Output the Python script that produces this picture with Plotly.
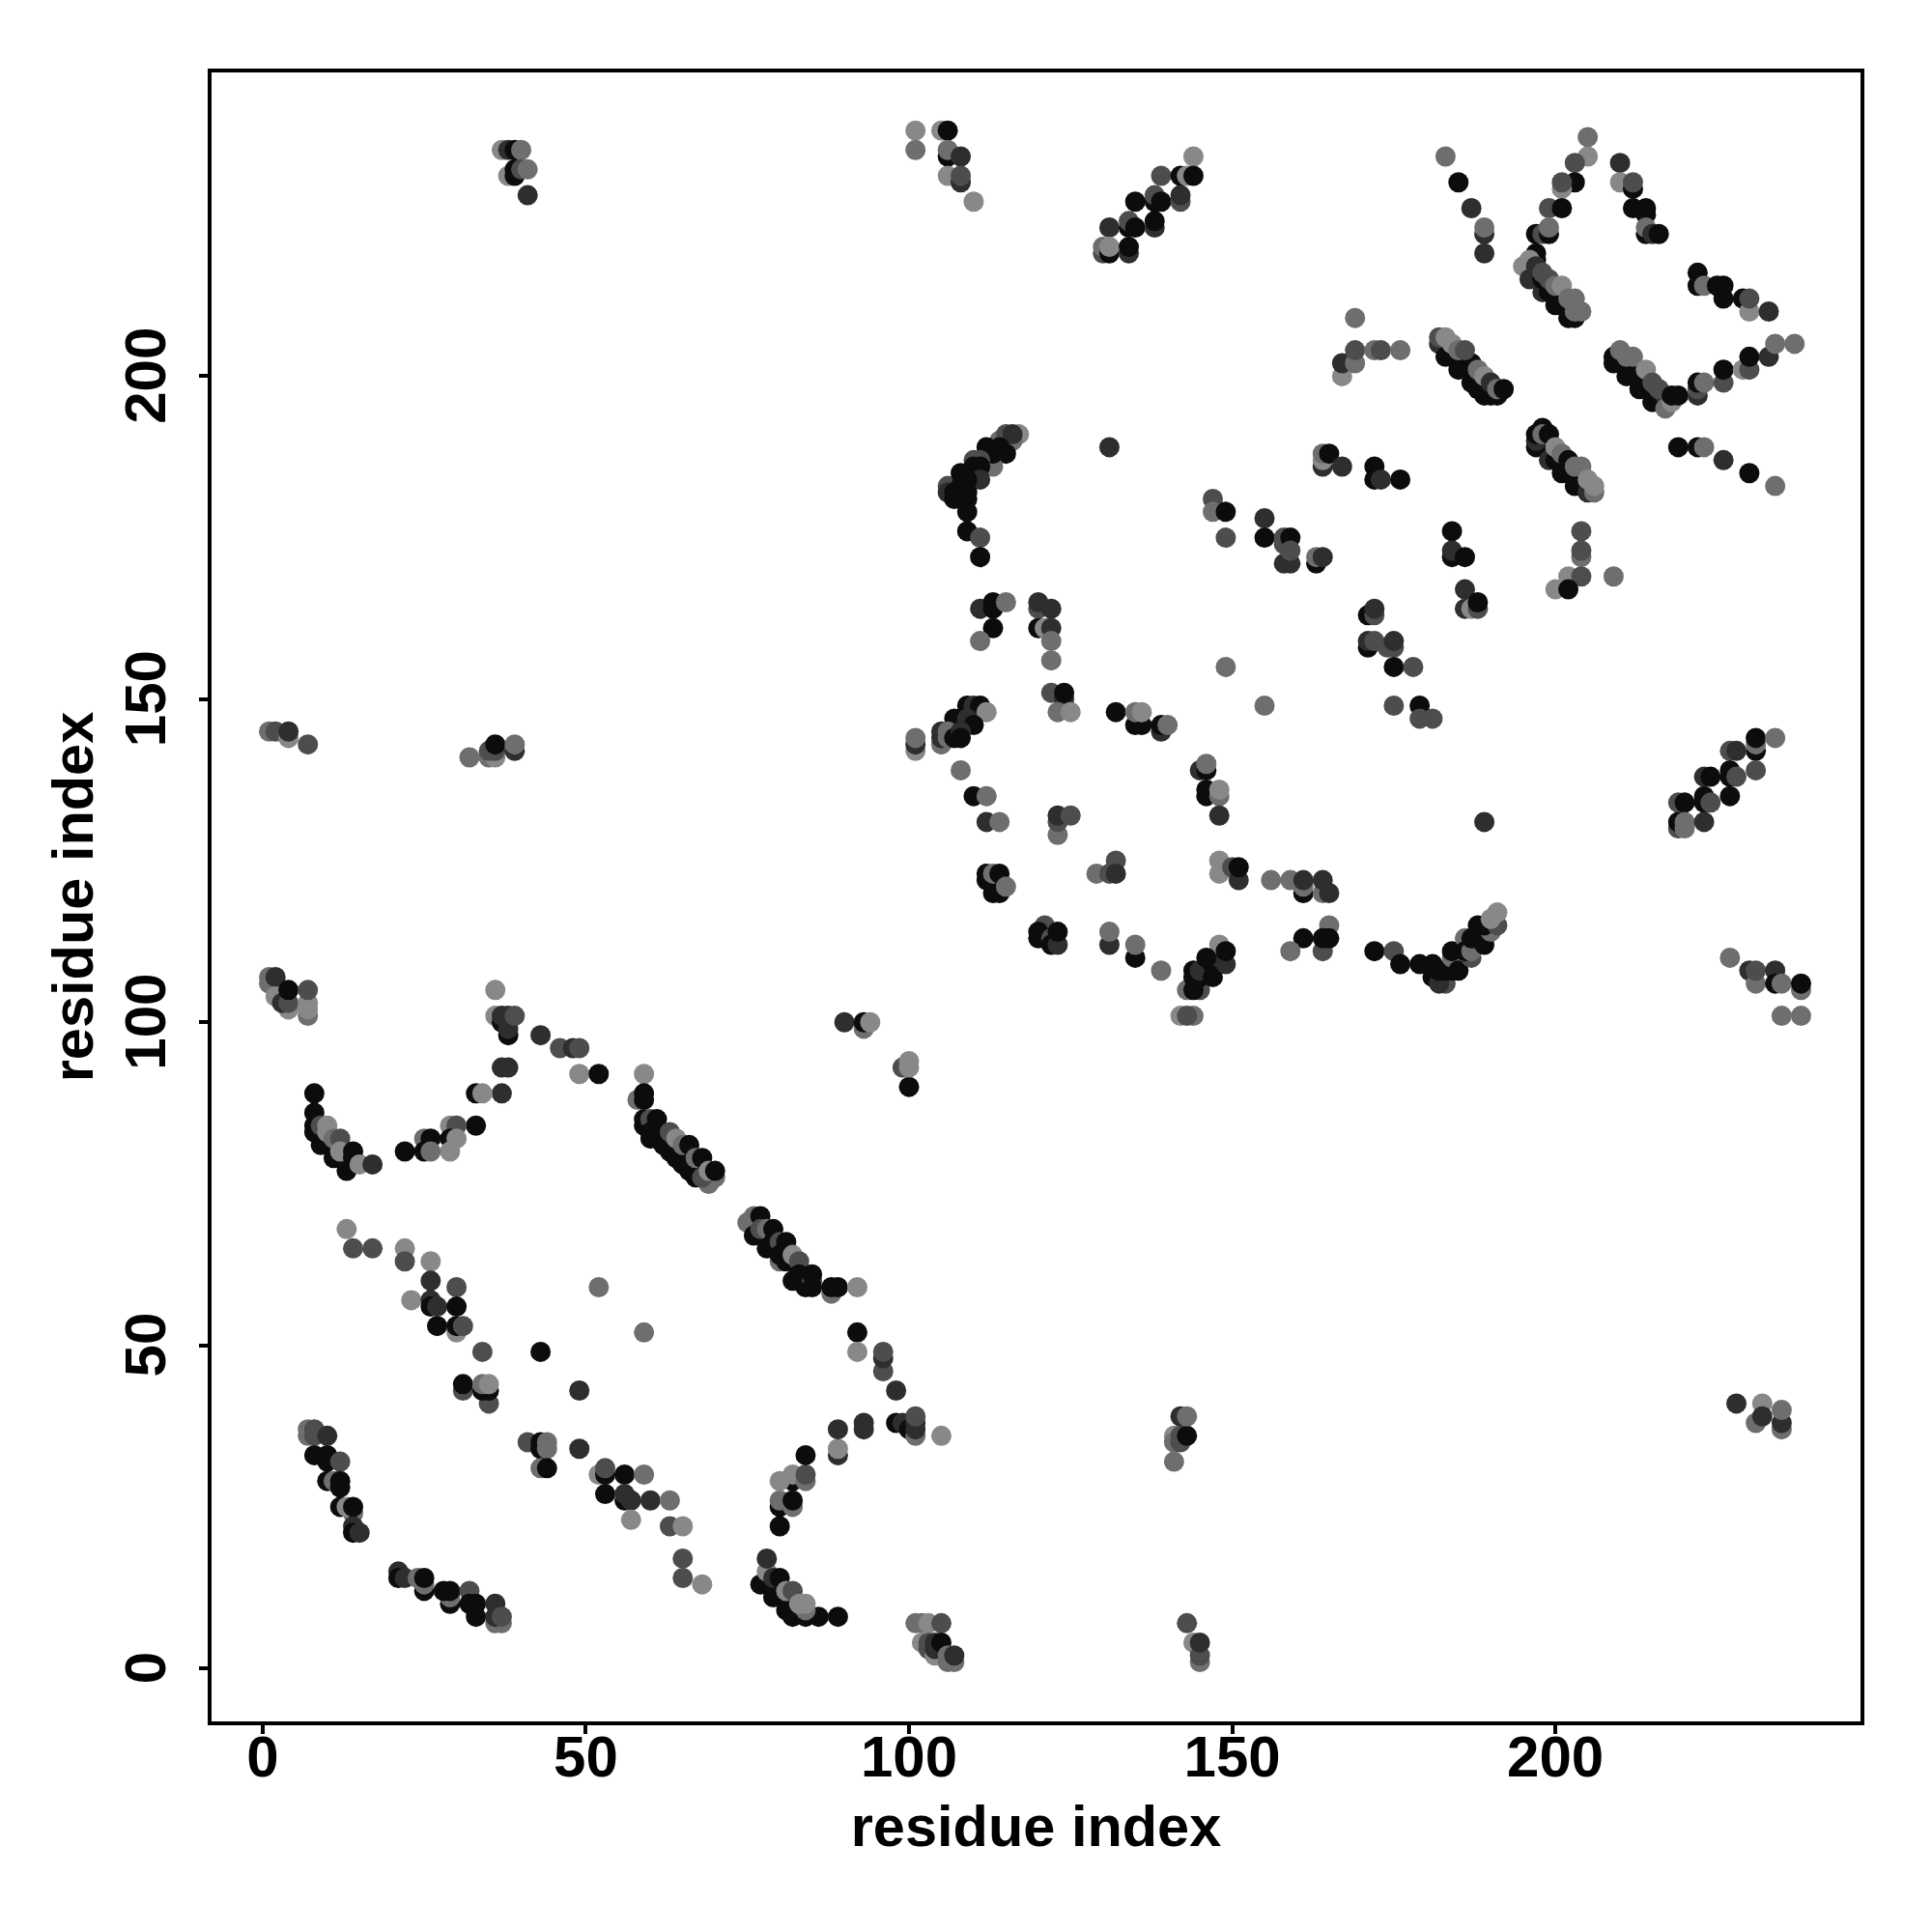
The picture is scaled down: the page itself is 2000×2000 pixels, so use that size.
import plotly.graph_objects as go

# contact map: (residue i, residue j, level)
# level: 0 darkest ... 4 lightest
corner_low = [(1,107,3),(1,106,3),(3,105,4),(2,107,1),(2,104,4),(4,102,4),(3,103,1),(4,103,2),(4,105,0),(7,101,3),(7,102,4),(7,103,4),(7,105,2),
              (36,105,4),(36,101,4),(37,100,0),(38,98,0),(38,99,1),(37,101,1),(38,101,1),(39,101,2),(43,98,1),(46,96,2),(48,96,1),(49,96,2),(49,92,4),(52,92,0),
              (37,93,1),(38,93,1),(37,89,1),(33,89,0),(34,89,4),(33,84,0),(29,84,4),(30,84,2),(29,82,0),(30,82,4),(29,80,4),(25,82,3),(26,82,0),(25,80,0),(26,80,3),(22,80,0),
              (90,100,1),(93,99,3),(93,100,0),(94,100,4),(99,93,2),(100,90,0),(100,93,4),(100,94,4)]
curve_left = [(8,89,0),(8,86,0),(8,84,0),(8,83,0),(9,81,0),(9,84,2),(10,84,4),(10,83,4),(11,79,0),(11,82,3),(12,82,2),(12,80,4),(13,77,0),(14,79,0),(14,80,0),(15,78,4),(17,78,1)]
diag_a = [(59,92,4),(58,88,3),(59,89,0),(59,88,0),(59,85,0),(59,84,0),(60,85,2),(60,83,0),(60,82,0),(61,85,0),(61,83,0),(61,82,0),(62,81,0),(63,80,0),(64,79,0),(65,78,0),(66,77,0),(67,76,0),
          (69,75,3),(70,76,3),(68,76,2),(63,83,2),(64,82,4),(65,81,3),(66,81,0),(67,79,3),(68,79,0),(69,77,4),(70,77,0)]
diag_b = [(75,69,3),(76,70,3),(77,70,0),(76,67,0),(77,68,2),(78,68,3),(79,68,0),(78,65,0),(79,66,0),(80,66,2),(81,66,0),(80,63,3),(80,64,0),(81,63,0),(82,64,4),(83,63,2),(82,60,0),(83,61,0),(83,60,0),
          (84,59,0),(85,60,2),(85,59,0),(85,61,0),(88,58,3),(88,59,0),(89,59,0),(92,59,4)]
mid_low = [(13,68,4),(14,65,2),(17,65,2),(22,65,4),(22,63,2),(26,63,4),(26,60,1),(30,59,2),(23,57,4),(26,57,1),(26,56,0),(27,56,1),(30,56,0),(30,52,4),(27,53,0),(30,53,0),(31,53,2),
           (52,59,3),(59,52,3),(92,52,0),(92,49,4),(34,49,2),(43,49,0),(31,43,2),(31,44,0),(35,41,2),(34,43,0),(35,43,0),(34,44,3),(35,44,4),(49,43,1)]
corner_b = [(7,37,3),(7,36,3),(8,37,2),(8,36,2),(10,36,1),(8,33,0),(10,33,0),(10,32,0),(12,32,2),(10,29,0),(11,29,3),(12,28,0),(12,29,0),(12,25,0),(14,24,3),(13,25,4),(14,25,0),(14,22,1),(14,21,0),(15,21,1),
            (21,15,1),(21,14,0),(22,14,1),(24,14,3),(25,12,0),(25,13,3),(25,14,0),(29,10,0),(29,11,3),(28,12,0),(29,12,0),(32,12,2),(32,10,0),(33,8,0),(33,10,0),(36,7,3),(37,7,3),(36,10,1),(36,8,1),(37,8,2)]
mid_b = [(41,35,2),(43,34,0),(43,35,0),(44,34,3),(44,35,3),(43,31,3),(44,31,0),(49,34,1),(52,30,4),(53,30,0),(53,31,2),(56,30,0),(59,30,3),(53,27,0),(56,26,0),(56,27,1),(57,26,1),(60,26,1),(63,26,3),(57,23,4),(63,22,2),(65,22,4),(65,17,2),(65,14,2),(68,13,4)]
v_low = [(80,22,0),(80,25,0),(82,25,3),(80,26,3),(82,26,0),(82,29,0),(80,29,4),(82,30,4),(84,29,3),(84,30,2),(84,33,0),(89,33,1),(89,34,4),(89,37,1),(93,37,1),(93,38,1),
         (96,46,2),(96,48,1),(96,49,2),(98,43,1),(98,38,0),(99,38,1),(100,37,0),(101,36,3),(101,37,1),(101,38,1),(101,39,2),(105,36,4),
         (77,13,0),(78,15,4),(78,17,1),(79,12,0),(79,11,0),(79,14,1),(80,14,0),(81,9,0),(82,8,0),(84,8,0),(86,8,0),(89,8,0),(84,9,3),(81,12,4),(82,12,2),(83,10,4),(84,10,4)]
small_b = [(101,7,3),(102,7,3),(103,7,4),(105,7,2),(102,4,4),(103,3,2),(103,4,2),(104,2,4),(104,3,1),(104,4,1),(105,4,0),(106,1,3),(107,1,3),(106,2,3),(107,2,1),
           (141,36,4),(141,35,3),(142,35,2),(142,36,2),(143,36,0),(142,39,1),(143,39,3),(141,32,3),(143,7,2),(144,4,4),(145,1,3),(145,2,2),(145,4,1)]
arc_top = [(117,191,4),(114,190,3),(115,191,2),(116,190,3),(116,191,1),(115,188,0),(114,189,0),(112,189,0),(113,186,3),(113,188,0),(112,188,0),(110,187,2),(111,187,2),(110,184,3),(111,186,0),(110,186,0),(111,184,1),
           (106,183,2),(106,182,1),(108,185,0),(107,182,0),(107,181,0),(109,184,0),(108,183,0),(109,182,0),(109,181,0),(109,179,0),(109,176,0),(111,175,2),(111,172,0),(131,189,1)]
right_mid = [(147,181,2),(147,179,3),(149,179,0),(149,175,2),(155,178,1),(155,175,0),(158,174,2),(158,175,2),(159,175,0),(158,171,1),(159,171,1),(159,173,2),(163,171,0),(163,172,3),(164,172,1),
             (164,186,1),(164,187,4),(164,188,3),(165,188,0),(167,186,1)]
arch_mid = [(111,164,1),(113,164,0),(113,165,0),(115,165,3),(113,161,0),(111,159,3),(120,164,2),(120,165,1),(122,164,1),(120,161,0),(121,161,4),(122,161,1),(122,159,3),(122,156,3),(122,151,2),(124,150,1),(124,151,0),(123,148,3),(125,148,4),
            (132,148,0),(135,146,0),(136,146,0),(135,148,3),(136,148,4),(139,145,1),(139,146,0),(140,146,3),(149,155,3),(155,149,3)]
arch_left = [(109,149,0),(110,149,1),(111,149,0),(112,148,4),(107,147,0),(108,147,0),(109,147,1),(110,146,0),(105,143,3),(105,145,1),(105,144,1),(106,145,3),(106,144,3),(107,144,0),(108,145,1),(108,144,0),(101,142,4),(101,143,1),(101,144,3),
             (108,139,3),(110,135,0),(112,135,3),(112,131,1),(114,131,3),(123,129,3),(123,131,2),(123,132,1),(125,132,2),(145,139,1),(146,139,0),(146,140,3),(146,136,0),(146,135,0),(148,135,3),(148,136,4),(148,132,1)]
row_mid = [(148,125,4),(148,123,4),(150,124,2),(151,122,1),(151,124,0),(156,122,3),(159,122,3),(161,120,0),(161,121,3),(161,122,1),(164,120,3),(164,122,1),(165,120,1),(129,123,3),(132,125,2),(131,123,2),(132,123,1),
           (112,122,0),(113,120,0),(114,120,0),(112,123,0),(113,123,3),(114,123,0),(115,121,3)]
row_low = [(165,115,3),(161,113,0),(164,111,2),(164,113,0),(165,113,0),(159,111,3),(172,111,0),(175,111,2),(176,109,0),(179,109,0),(181,107,0),(181,109,0),(183,106,2),(182,106,1),(182,108,0),(183,108,0),(184,108,0),(184,110,3),(184,111,0),(185,108,0),
           (187,110,2),(186,113,3),(186,111,0),(187,111,3),(187,113,0),(189,112,0),(188,115,0),(190,114,3),(189,115,0),(191,115,2),(190,116,4),(191,117,4),
           (121,115,2),(120,113,0),(120,114,0),(121,113,0),(122,113,2),(122,112,0),(123,112,1),(123,114,0),(131,112,1),(131,114,3),(135,110,0),(135,112,3),(139,108,3),
           (143,105,3),(145,105,2),(144,105,0),(144,107,0),(145,107,0),(144,108,0),(145,108,1),(147,107,0),(147,109,0),(148,110,1),(148,112,4),(146,110,0),(149,109,1),(149,111,0),(142,101,4),(144,101,3),(143,101,2)]
top_right = [(183,234,3),(185,230,0),(187,226,1),(189,222,1),(189,223,3),(189,219,1),(205,237,3),(205,234,4),(203,233,2),(203,230,0),(201,229,4),(201,230,2),(199,226,2),(201,226,0),(197,222,0),(198,222,2),(199,222,0),(199,223,3),(197,219,0),(197,218,0),(195,217,4),(196,218,4),
             (210,233,1),(210,230,4),(212,229,0),(212,230,2),(212,226,0),(214,225,0),(214,226,0),(214,222,0),(214,223,3),(215,222,1),(216,222,0)]
diag_c = [(196,215,1),(197,217,1),(198,213,1),(198,215,0),(199,213,0),(200,211,0),(200,212,0),(201,211,0),(202,209,0),(202,210,0),(203,209,0),(198,216,2),(199,215,2),(200,214,3),(201,214,4),(202,212,3),(203,212,3),(203,210,3),(204,210,3)]
arm_right = [(222,216,0),(222,214,0),(223,214,3),(225,214,0),(226,214,0),(226,212,0),(229,212,0),(230,210,4),(230,212,2),(233,210,1),(169,209,3),(167,200,4),(167,202,1),(169,202,3),(169,204,2),(172,204,3),(173,204,2),(176,204,3)]
diag_d = [(182,205,1),(183,203,0),(184,203,0),(185,201,0),(186,202,0),(187,199,0),(187,202,0),(188,198,0),(188,200,0),(189,197,0),(190,197,0),(191,197,0),(182,206,2),(183,206,4),(184,205,4),(185,204,3),(186,204,2),(188,201,3),(189,200,4),(190,199,1),(191,198,3),(192,198,0)]
diag_e = [(209,202,0),(209,203,0),(210,202,0),(211,200,0),(212,201,0),(213,198,0),(213,200,0),(214,199,0),(215,196,0),(216,196,0),(217,197,1),(210,204,3),(211,203,3),(212,203,3),(214,201,4),(215,199,2),(216,198,2),(217,195,3),(218,196,4),(218,197,0),(219,197,0),
          (222,197,1),(222,198,2),(222,199,0),(223,199,3),(226,199,2),(226,201,0),(229,201,4),(230,201,2),(230,203,0),(233,203,1),(234,205,3),(237,205,3)]
diag_f = [(197,189,0),(197,190,1),(197,191,0),(198,192,0),(198,191,3),(199,191,0),(199,187,1),(200,187,0),(201,185,0),(202,185,0),(203,183,0),(205,182,1),(206,182,3),(200,189,4),(201,188,3),(202,187,0),(203,186,3),(204,186,3),(205,184,4),(206,183,4),
          (219,189,0),(222,189,0),(223,189,3),(226,187,1),(230,185,0),(234,183,3)]
mid_right = [(172,186,0),(172,184,0),(173,184,1),(176,184,0),(184,176,0),(184,172,0),(184,173,1),(186,172,0),(204,176,2),(204,172,3),(204,173,2),(202,169,4),(204,169,2),(209,169,3),(200,167,4),(202,167,0),
             (186,167,1),(186,164,1),(187,164,4),(188,164,2),(188,165,0),(171,163,0),(172,163,2),(172,164,1),(171,158,0),(171,159,1),(172,159,2),(174,158,2),(175,158,2),(175,159,1),(175,155,0),(178,155,2),(175,149,2),(179,149,0),(179,147,2),(181,147,2),(189,131,1)]
top_left = [(37,235,4),(38,235,1),(39,235,0),(40,235,3),(38,231,4),(39,231,0),(39,232,0),(40,232,2),(41,232,3),(41,228,1)]
top_mid = [(101,238,4),(101,235,3),(105,238,4),(106,238,0),(106,234,0),(106,235,3),(108,234,1),(106,231,4),(108,230,1),(108,231,2),(110,227,4),
           (144,234,4),(139,231,2),(142,231,0),(143,231,4),(144,231,0),(138,227,0),(138,228,2),(135,227,0),(139,227,0),(142,227,2),(142,228,1),(131,223,1),(134,223,0),(134,224,2),(135,223,0),(138,223,1),(138,224,0),
           (130,219,2),(130,220,3),(131,219,0),(131,220,4),(134,219,1),(134,220,0)]
right_block = [(231,142,0),(231,143,3),(231,144,0),(234,144,3),(227,142,2),(228,142,1),(231,139,2),(227,138,0),(227,139,0),(228,138,2),(223,138,1),(224,138,0),(227,135,0),(223,134,0),(223,135,0),(224,134,2),
               (219,134,2),(220,134,0),(219,130,2),(219,131,0),(220,130,3),(220,131,3),(223,131,1),
               (227,110,3),(230,108,1),(231,106,3),(231,108,2),(234,108,1),(234,106,0),(235,106,3),(238,105,3),(238,106,0),(235,101,3),(238,101,3),
               (228,41,1),(232,41,4),(231,38,3),(232,39,1),(235,37,3),(235,38,1),(235,40,3)]
left_mid = [(1,145,3),(2,145,2),(4,144,4),(4,145,1),(7,143,2),(32,141,3),(35,141,3),(36,141,4),(35,142,2),(36,142,2),(36,143,0),(39,142,1),(39,143,3)]

clusters = [corner_low, curve_left, diag_a, diag_b, mid_low, corner_b, mid_b, v_low, small_b, arc_top,
            right_mid, arch_mid, arch_left, row_mid, row_low, top_right, diag_c, arm_right, diag_d,
            diag_e, diag_f, mid_right, top_left, top_mid, right_block, left_mid]
tick_values = [0, 50, 100, 150, 200]
tick_labels = ["0", "50", "100", "150", "200"]
axis_title = "residue index"

palette = ["#0c0c0c", "#2e2e2e", "#4d4d4d", "#6e6e6e", "#888888"]
points = [p for c in clusters for p in c]

fig = go.Figure(go.Scatter(
    x=[p[0] for p in points], y=[p[1] for p in points], mode="markers",
    marker=dict(size=21, color=[palette[p[2]] for p in points], line=dict(width=0), opacity=1),
    showlegend=False, hoverinfo="skip"))

font = dict(family="Liberation Sans", size=59.5, color="black")
axis = dict(tickmode="array", tickvals=tick_values, ticks="outside", ticklen=9, tickwidth=4,
            tickcolor="black", showline=True, linewidth=4, linecolor="black", mirror=True,
            showgrid=False, zeroline=False, tickfont=dict(family="Liberation Sans", size=60, color="black", weight="bold"))
fig.update_xaxes(range=[-7.9, 247.2], ticklabelstandoff=-28, ticktext=tick_labels,
                 title=dict(text="<b>%s</b>" % axis_title, font=font, standoff=19), **axis)
# a trailing no-break space centres the rotated labels on their ticks
fig.update_yaxes(range=[-8.2, 247.0], tickangle=-90, ticklabelstandoff=11,
                 ticktext=[t + "\u00a0" for t in tick_labels],
                 title=dict(text="<b>%s</b>" % axis_title, font=font, standoff=2), **axis)
fig.update_layout(width=1984, height=1984, margin=dict(l=211, t=67, r=65.5, b=210, autoexpand=False),
                  paper_bgcolor="white", plot_bgcolor="white")
fig.write_html("out.html")
